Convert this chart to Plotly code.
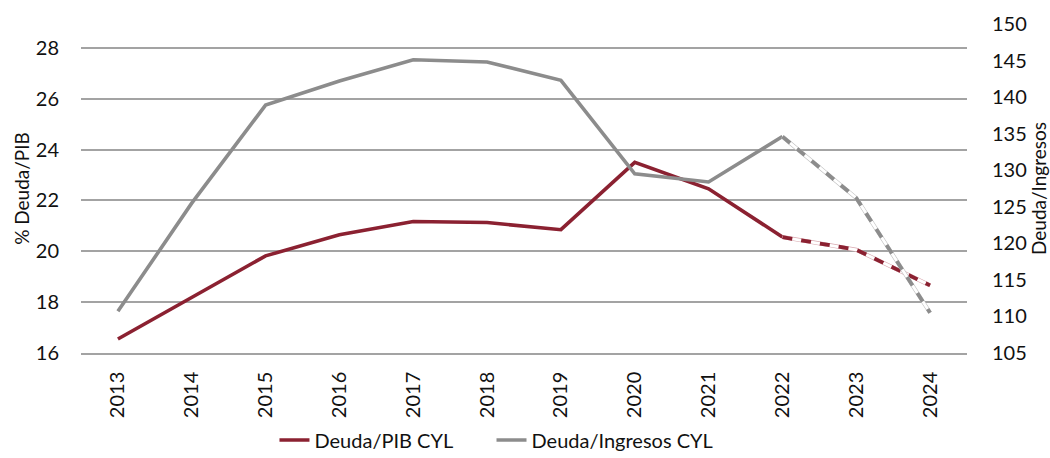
import plotly.graph_objects as go

years = ["2013", "2014", "2015", "2016", "2017", "2018", "2019", "2020", "2021", "2022", "2023", "2024"]
deuda_pib = [16.55, 18.17, 19.82, 20.65, 21.17, 21.13, 20.85, 23.5, 22.46, 20.56, 20.06, 18.66]
deuda_ingresos = [110.7, 125.5, 138.9, 142.2, 145.1, 144.8, 142.3, 129.5, 128.4, 134.6, 126.2, 110.5]
proj_start = 9  # index from which values are projections (dashed)

RED = "#8B2131"
GRAY = "#8C8C8C"
FONT = "Lato"

fig = go.Figure()

# solid parts
fig.add_trace(go.Scatter(x=years[:proj_start + 1], y=deuda_pib[:proj_start + 1], mode="lines",
                         name="Deuda/PIB CYL", line=dict(color=RED, width=3.6), yaxis="y",
                         legend="legend"))
fig.add_trace(go.Scatter(x=years[:proj_start + 1], y=deuda_ingresos[:proj_start + 1], mode="lines",
                         name="Deuda/Ingresos CYL", line=dict(color=GRAY, width=3.6), yaxis="y2",
                         legend="legend2"))

# dashed projection parts (outlined white gaps)
for vals, col, tint, ax in [(deuda_pib, RED, "#D9A9B0", "y"), (deuda_ingresos, GRAY, "#C0C0C0", "y2")]:
    xs = years[proj_start:]
    ys = vals[proj_start:]
    fig.add_trace(go.Scatter(x=xs, y=ys, mode="lines", showlegend=False, hoverinfo="skip",
                             line=dict(color=tint, width=4), yaxis=ax))
    fig.add_trace(go.Scatter(x=xs, y=ys, mode="lines", showlegend=False, hoverinfo="skip",
                             line=dict(color="white", width=2.8), yaxis=ax))
    fig.add_trace(go.Scatter(x=xs, y=ys, mode="lines", showlegend=False, hoverinfo="skip",
                             line=dict(color=col, width=3.8, dash="10px,9px"), yaxis=ax))

leg_common = dict(orientation="h", xanchor="left", xref="container", yref="container",
                  y=0.0393, yanchor="middle", font=dict(size=20), bgcolor="rgba(0,0,0,0)")

fig.update_layout(
    width=1050, height=458,
    margin=dict(l=81, r=83, t=24, b=105, autoexpand=False),
    paper_bgcolor="white", plot_bgcolor="white",
    font=dict(family=FONT, size=20, color="#111111"),
    showlegend=True,
    legend=dict(x=0.2614, **leg_common),
    legend2=dict(x=0.4681, **leg_common),
    xaxis=dict(type="category", range=[-0.5, 11.5], tickangle=-90, showgrid=False, ticks="",
               showline=True, linecolor="#A3A3A3", linewidth=1.5, automargin=False,
               tickfont=dict(size=20), ticklabelstandoff=9),
    yaxis=dict(range=[16, 28.94], tickmode="array", tickvals=[16, 18, 20, 22, 24, 26, 28],
               showgrid=True, gridcolor="#A3A3A3", gridwidth=1.5, zeroline=False, ticks="",
               ticklabelstandoff=21, automargin=False,
               title=dict(text="% Deuda/PIB", font=dict(size=19), standoff=1), showline=False),
    yaxis2=dict(range=[105, 150], dtick=5, tick0=105, overlaying="y", side="right", showgrid=False,
                zeroline=False, ticks="", showline=False, ticklabelstandoff=24, automargin=False,
                title=dict(text="Deuda/Ingresos", font=dict(size=19), standoff=0)),
)

fig.write_html("out.html", config={"displayModeBar": False},
               post_script="document.body.style.margin='0';")
